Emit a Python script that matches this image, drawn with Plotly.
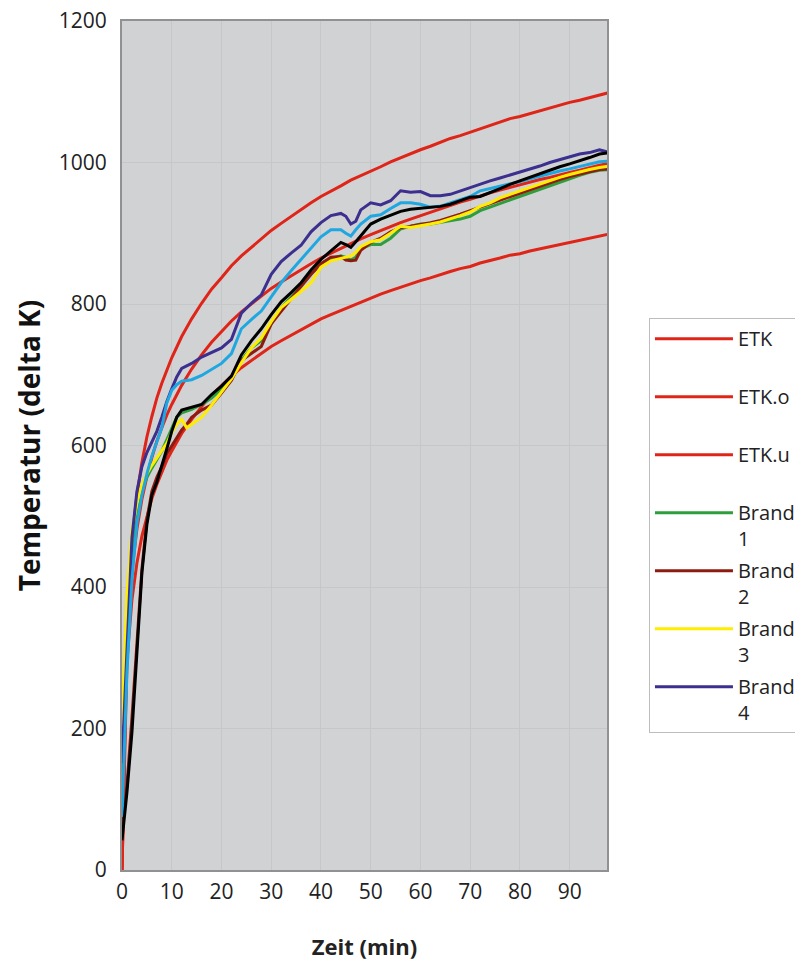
import plotly.graph_objects as go

# ---- data ----
t_etk = [0, 1, 2, 3, 4, 5, 6, 7, 8, 9, 10,
         12, 14, 16, 18, 20, 22, 24, 26, 28, 30,
         32, 34, 36, 38, 40, 42, 44, 46, 48, 50,
         52, 54, 56, 58, 60, 62, 64, 66, 68, 70,
         72, 74, 76, 78, 80, 82, 84, 86, 88, 90,
         92, 94, 96, 98]
etk = [0, 329, 424, 482, 524, 556, 583, 606, 625, 643, 658,
       685, 708, 728, 746, 761, 776, 789, 800, 812, 822,
       831, 840, 849, 857, 865, 872, 879, 886, 892, 898,
       904, 910, 915, 920, 925, 930, 935, 940, 944, 948,
       953, 957, 961, 965, 968, 972, 976, 979, 983, 986,
       989, 993, 996, 999]
etk_o = [0, 362, 467, 530, 576, 612, 641, 667, 688, 707, 724,
         754, 779, 801, 821, 837, 854, 868, 880, 893, 904,
         914, 924, 934, 943, 952, 959, 967, 975, 981, 988,
         994, 1001, 1007, 1012, 1018, 1023, 1029, 1034, 1038, 1043,
         1048, 1053, 1057, 1062, 1065, 1069, 1074, 1077, 1081, 1085,
         1088, 1092, 1096, 1099]
etk_u = [0, 296, 382, 434, 472, 500, 525, 545, 563, 579, 592,
         617, 637, 655, 671, 685, 698, 710, 720, 731, 740,
         748, 756, 764, 771, 779, 785, 791, 797, 803, 808,
         814, 819, 824, 828, 833, 837, 842, 846, 850, 853,
         858, 861, 865, 869, 871, 875, 878, 881, 885, 887,
         890, 894, 896, 899]

t_brand = [0, 1, 2, 3, 4, 5, 6, 7, 8, 9, 10, 11, 12, 13, 14,
           16, 18, 20, 22, 24, 26, 28, 30, 32, 34, 36, 38, 40, 42, 44,
           45, 46, 47,
           48, 50, 52, 54, 56, 58, 60, 62, 64, 66, 68, 70, 72, 74, 76, 78,
           80, 82, 84, 86, 88, 90, 92, 94, 96, 98]
brand1 = [132, 300, 430, 500, 535, 555, 568, 580, 592, 608, 625, 640, 646, 648, 651,
          658, 667, 680, 695, 720, 738, 748, 772, 795, 810, 825, 842, 857, 864, 868,
          866, 862, 866,
          878, 884, 884, 893, 906, 910, 913, 913, 915, 917, 920, 924, 932, 937, 942, 947,
          952, 957, 962, 968, 972, 977, 982, 986, 989, 990]
brand2 = [57, 120, 215, 320, 425, 495, 535, 555, 570, 588, 600, 612, 622, 630, 640,
          650, 657, 674, 692, 720, 730, 740, 772, 790, 808, 825, 842, 857, 866, 867,
          862, 861, 862,
          876, 887, 893, 902, 908, 910, 912, 915, 918, 922, 927, 932, 937, 942, 947, 952,
          957, 962, 967, 972, 976, 980, 984, 987, 990, 991]
brand3 = [205, 390, 480, 518, 545, 560, 572, 582, 592, 603, 618, 630, 637, 625, 630,
          640, 657, 676, 694, 717, 738, 752, 775, 795, 806, 818, 830, 852, 861, 865,
          867, 868, 873,
          881, 888, 891, 900, 910, 908, 910, 913, 916, 920, 925, 930, 938, 943, 950, 955,
          960, 965, 970, 975, 979, 983, 987, 990, 993, 995]
brand4 = [151, 320, 470, 535, 570, 590, 604, 620, 640, 662, 680, 697, 709, 712, 716,
          725, 732, 738, 750, 787, 801, 813, 842, 860, 872, 883, 902, 915, 925, 928,
          924, 913, 917,
          933, 943, 940, 946, 960, 958, 959, 953, 953, 955, 960, 965, 970, 974, 978, 982,
          987, 991, 995, 1000, 1004, 1008, 1012, 1014, 1018, 1014]
extra_blue = [75, 280, 410, 490, 530, 560, 585, 605, 625, 660, 678, 686, 691, 692, 693,
              699, 707, 716, 730, 765, 778, 790, 810, 830, 847, 863, 880, 895, 905, 905,
              900, 896, 905,
              913, 924, 926, 935, 943, 943, 941, 937, 938, 943, 947, 952, 960, 963, 966, 970,
              973, 977, 981, 985, 988, 991, 994, 997, 1001, 1002]
extra_black = [42, 110, 195, 300, 420, 488, 530, 548, 570, 595, 620, 640, 650, 652, 655,
               658, 672, 684, 698, 728, 748, 765, 785, 803, 816, 830, 848, 863, 875, 887,
               884, 880, 888,
               896, 913, 920, 926, 931, 934, 935, 936, 938, 941, 946, 951, 952, 957, 963, 969,
               974, 979, 985, 990, 994, 998, 1002, 1007, 1012, 1014]

x_ticks = [0, 10, 20, 30, 40, 50, 60, 70, 80, 90]
y_ticks = [0, 200, 400, 600, 800, 1000, 1200]

RED = "#DF2418"
series = [
    ("ETK<br> ", t_etk, etk, RED, True),
    ("ETK.o<br> ", t_etk, etk_o, RED, True),
    ("ETK.u<br> ", t_etk, etk_u, RED, True),
    ("Brand<br>1", t_brand, brand1, "#2E9E3C", True),
    ("Brand<br>2", t_brand, brand2, "#8E1B10", True),
    ("Brand<br>3", t_brand, brand3, "#FFED00", True),
    ("Brand<br>4", t_brand, brand4, "#3B2F8F", True),
    ("", t_brand, extra_blue, "#1FA7E1", False),
    ("", t_brand, extra_black, "#000000", False),
]

fig = go.Figure()
for i, (name, xs, ys, col, show) in enumerate(series):
    fig.add_trace(go.Scatter(
        x=xs, y=ys, mode="lines", name=name, showlegend=show,
        legendgroup=f"g{i}",
        line=dict(color=col, width=3),
        hoverinfo="skip",
    ))

FONT = "Open Sans, Noto Sans, sans-serif"
fig.update_layout(
    width=803, height=962,
    margin=dict(l=114, r=204, t=13, b=100, autoexpand=False),
    paper_bgcolor="white",
    plot_bgcolor="#D1D2D4",
    font=dict(family=FONT, size=21, color="#222222"),
    legend=dict(
        x=1.0865, y=0.6500, xanchor="left", yanchor="top",
        bordercolor="#BDBDBD", borderwidth=1, bgcolor="white",
        font=dict(family=FONT, size=20, color="#222222"),
        traceorder="grouped", tracegroupgap=3, valign="top",
        itemwidth=78,
    ),
    xaxis=dict(
        range=[0, 97.5], tickvals=x_ticks, ticktext=[str(v) for v in x_ticks],
        showgrid=True, gridcolor="#C6C7C9", gridwidth=1,
        showline=True, linecolor="#919191", linewidth=2, mirror=True,
        ticks="", ticklabelstandoff=2, zeroline=False, ticklabeloverflow="allow",
        title=dict(text="<b>Zeit (min)</b>", standoff=35,
                   font=dict(family=FONT, size=22, color="#222222")),
    ),
    yaxis=dict(
        range=[0, 1200], tickvals=y_ticks, ticktext=[str(v) for v in y_ticks],
        showgrid=True, gridcolor="#C6C7C9", gridwidth=1,
        showline=True, linecolor="#919191", linewidth=2, mirror=True,
        ticks="", ticklabelstandoff=9, zeroline=False, ticklabeloverflow="allow",
        title=dict(text="<b>Temperatur (delta K)</b>", standoff=10,
                   font=dict(family=FONT, size=28, color="#111111")),
    ),
)

fig.write_html("out.html")
